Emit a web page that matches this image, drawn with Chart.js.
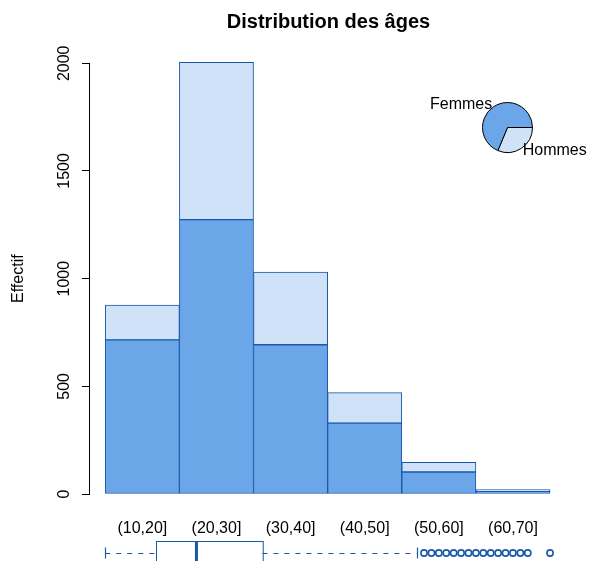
<!DOCTYPE html>
<html>
<head>
<meta charset="utf-8">
<script src="https://cdn.jsdelivr.net/npm/chart.js@4"></script>
<style>
  html, body { margin: 0; padding: 0; background: #fff; }
  #wrap { position: relative; width: 589px; height: 561px; overflow: hidden; }
  #main { position: absolute; left: 0; top: 0; }
  #pie { position: absolute; left: 400px; top: 80px; }
</style>
</head>
<body>
<div id="wrap">
  <canvas id="main" width="589" height="561"></canvas>
  <canvas id="pie" width="189" height="96"></canvas>
</div>
<script>
// ---- data ----
const categories = ['(10,20]', '(20,30]', '(30,40]', '(40,50]', '(50,60]', '(60,70]'];
const classMid = [15, 25, 35, 45, 55, 65];
const femmes = [716, 1274, 693, 329, 102, 12];
const hommes = [161, 731, 337, 142, 45, 8];
const yTicks = [0, 500, 1000, 1500, 2000];
// boxplot of ages: [lower whisker, Q1, median, Q3, upper whisker]
const boxStats = [10, 16.8, 22.3, 31.2, 52];
const outliers = [53, 54, 55, 56, 57, 58, 59, 60, 61, 62, 63, 64, 65, 66, 67, 70];
const pieLabels = ['Femmes', 'Hommes'];

const FONT = "'Liberation Sans', Arial, Helvetica, sans-serif";
const BORDER = '#1858ac';
const DARK = '#6aa6e8';
const LIGHT = '#cfe2f7';

Chart.defaults.font.family = FONT;
Chart.defaults.color = '#000';

const sum = a => a.reduce((s, v) => s + v, 0);

const extrasPlugin = {
  id: 'extras',
  afterDraw(chart) {
    const ctx = chart.ctx;
    const xs = chart.scales.x, ys = chart.scales.y;
    const area = chart.chartArea;
    ctx.save();
    // y axis line from first to last tick
    const ax = Math.round(area.left) - 0.5;
    ctx.strokeStyle = '#000';
    ctx.lineWidth = 1;
    ctx.beginPath();
    ctx.moveTo(ax, Math.round(ys.getPixelForValue(yTicks[0])) + 0.5);
    ctx.lineTo(ax, Math.round(ys.getPixelForValue(yTicks[yTicks.length - 1])) + 0.5);
    ctx.stroke();

    // horizontal boxplot under the axis
    const yc = area.bottom + 59;
    const half = 12, staple = 5.5;
    const px = v => xs.getPixelForValue(v);
    ctx.strokeStyle = BORDER;
    ctx.lineWidth = 1.2;
    ctx.setLineDash([5, 6]);
    ctx.beginPath();
    ctx.moveTo(px(boxStats[0]), yc + 0.5); ctx.lineTo(px(boxStats[1]), yc + 0.5);
    ctx.moveTo(px(boxStats[3]), yc + 0.5); ctx.lineTo(px(boxStats[4]), yc + 0.5);
    ctx.stroke();
    ctx.setLineDash([]);
    ctx.beginPath();
    ctx.moveTo(Math.round(px(boxStats[0])) + 0.5, yc - staple); ctx.lineTo(Math.round(px(boxStats[0])) + 0.5, yc + staple);
    ctx.moveTo(Math.round(px(boxStats[4])) + 0.5, yc - staple); ctx.lineTo(Math.round(px(boxStats[4])) + 0.5, yc + staple);
    ctx.stroke();
    ctx.lineWidth = 1;
    ctx.strokeRect(Math.round(px(boxStats[1])) + 0.5, yc - half + 0.5, px(boxStats[3]) - px(boxStats[1]), half * 2);
    ctx.lineWidth = 3;
    ctx.beginPath();
    ctx.moveTo(px(boxStats[2]), yc - half); ctx.lineTo(px(boxStats[2]), yc + half);
    ctx.stroke();
    ctx.lineWidth = 1.6;
    outliers.forEach(v => {
      ctx.beginPath();
      ctx.arc(px(v), yc, 3.1, 0, Math.PI * 2);
      ctx.stroke();
    });
    ctx.restore();
  }
};

new Chart(document.getElementById('main'), {
  type: 'bar',
  data: {
    datasets: [
      {
        label: 'Femmes',
        data: classMid.map((x, i) => ({ x: x, y: femmes[i] })),
        backgroundColor: DARK,
        borderColor: BORDER,
        borderWidth: 1,
        borderSkipped: false,
        barPercentage: 1,
        categoryPercentage: 1,
        clip: false
      },
      {
        label: 'Hommes',
        data: classMid.map((x, i) => ({ x: x, y: hommes[i] })),
        backgroundColor: LIGHT,
        borderColor: BORDER,
        borderWidth: 1,
        borderSkipped: false,
        barPercentage: 1,
        categoryPercentage: 1,
        clip: false
      }
    ]
  },
  options: {
    responsive: false,
    animation: false,
    layout: { padding: { left: 0, right: 22, top: 0, bottom: 0 } },
    scales: {
      x: {
        type: 'linear',
        stacked: true,
        offset: false,
        min: 7.94,
        max: 72.29,
        grid: { display: false, offset: false },
        border: { display: false },
        afterBuildTicks: s => { s.ticks = classMid.map(v => ({ value: v })); },
        afterFit: s => { s.height = 67; },
        ticks: {
          autoSkip: false,
          maxRotation: 0,
          minRotation: 0,
          padding: 17,
          font: { size: 16 },
          color: '#000',
          callback: (v, i) => categories[i]
        }
      },
      y: {
        stacked: true,
        min: 0,
        max: 2000,
        afterBuildTicks: s => { s.ticks = yTicks.map(v => ({ value: v })); },
        afterFit: s => { s.width = 90; },
        grid: { display: true, drawOnChartArea: false, drawTicks: true, tickLength: 8, color: '#000', lineWidth: 1 },
        border: { display: false },
        ticks: {
          minRotation: 90,
          maxRotation: 90,
          crossAlign: 'center',
          padding: 0,
          font: { size: 16 },
          color: '#000',
          callback: v => String(v)
        },
        title: {
          display: true,
          text: 'Effectif',
          font: { size: 16 },
          color: '#000',
          padding: { top: 9.4, bottom: 20 }
        }
      }
    },
    plugins: {
      legend: { display: false },
      tooltip: { enabled: false },
      title: {
        display: true,
        fullSize: false,
        text: 'Distribution des âges',
        font: { size: 20, weight: 'bold' },
        color: '#000',
        padding: { top: 10, bottom: 29.3 }
      }
    }
  },
  plugins: [extrasPlugin]
});

// ---- pie (inset) ----
const pieLabelPlugin = {
  id: 'pieLabels',
  afterDraw(chart) {
    const ctx = chart.ctx;
    const meta = chart.getDatasetMeta(0);
    ctx.save();
    ctx.font = '16px ' + FONT;
    ctx.fillStyle = '#000';
    ctx.textBaseline = 'middle';
    meta.data.forEach((arc, i) => {
      const p = arc.getProps(['x', 'y', 'startAngle', 'endAngle', 'outerRadius'], true);
      const mid = (p.startAngle + p.endAngle) / 2;
      const c = Math.cos(mid), s = Math.sin(mid);
      ctx.textAlign = c > 0 ? 'left' : 'right';
      ctx.fillText(chart.data.labels[i], p.x + 1.1 * p.outerRadius * c, p.y + 1.1 * p.outerRadius * s);
    });
    ctx.restore();
  }
};

new Chart(document.getElementById('pie'), {
  type: 'pie',
  data: {
    labels: [pieLabels[1], pieLabels[0]],
    datasets: [{
      data: [sum(hommes), sum(femmes)],
      backgroundColor: [LIGHT, DARK],
      borderColor: '#000',
      borderWidth: 1
    }]
  },
  options: {
    responsive: false,
    animation: false,
    rotation: 90,
    layout: { padding: { left: 82, right: 56, top: 22, bottom: 23 } },
    plugins: { legend: { display: false }, tooltip: { enabled: false } }
  },
  plugins: [pieLabelPlugin]
});
</script>
</body>
</html>
